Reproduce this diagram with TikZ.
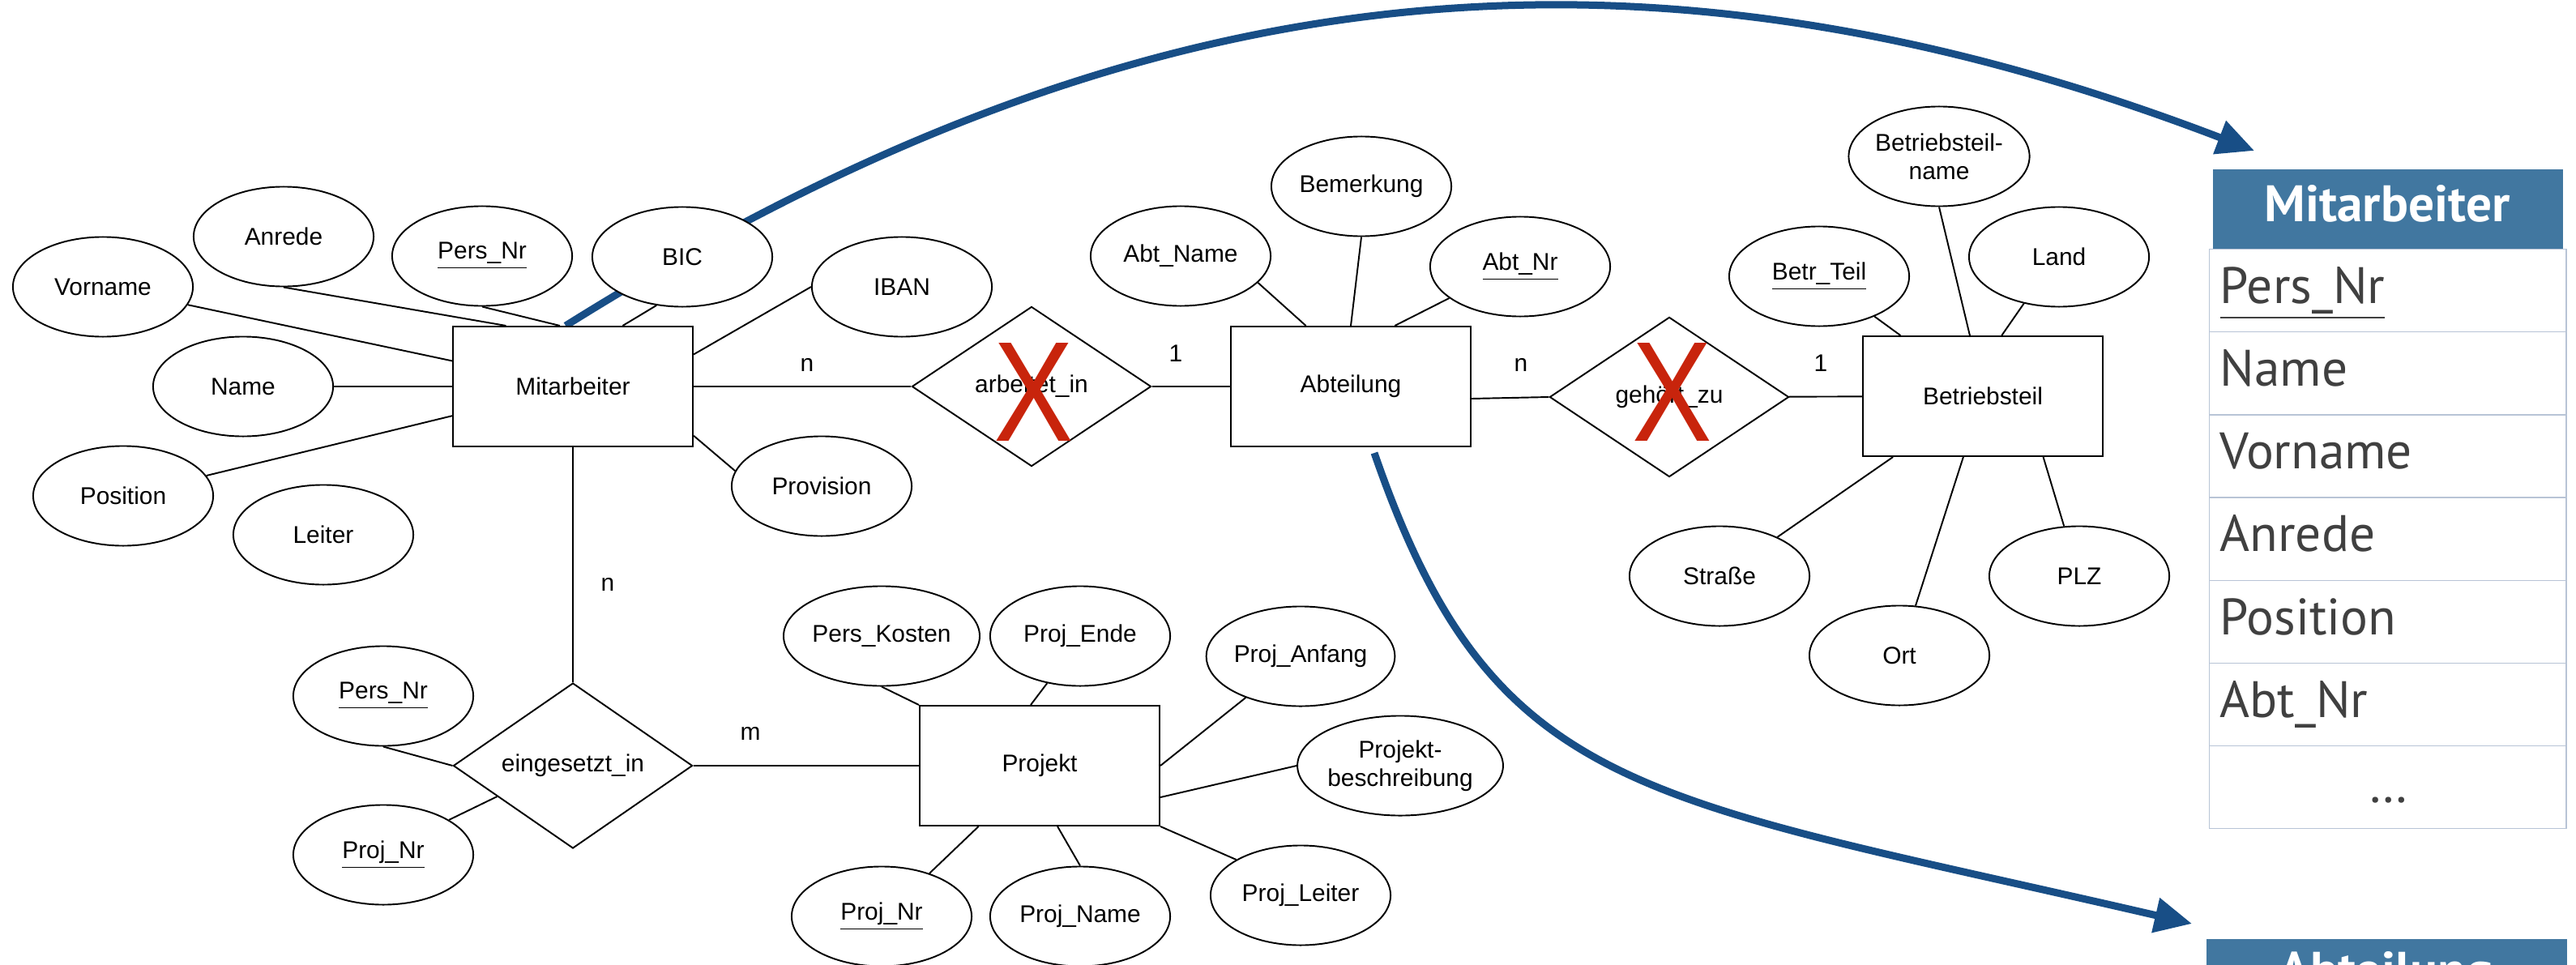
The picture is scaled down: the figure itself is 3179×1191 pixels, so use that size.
\documentclass[tikz,border=0pt]{standalone}
\usepackage{fontspec}
\setmainfont{Liberation Sans}
\newfontfamily\tabfont{PT Sans}
\usetikzlibrary{shapes.geometric,calc,arrows.meta}
\definecolor{arrowblue}{RGB}{24,78,134}
\definecolor{headblue}{RGB}{65,119,160}
\definecolor{rowline}{RGB}{184,196,214}
\definecolor{rowtext}{RGB}{64,64,64}
\definecolor{crossred}{RGB}{200,36,12}
\pgfdeclarelayer{bg}
\pgfsetlayers{bg,main}

\begin{document}
\begin{tikzpicture}[x=0.01cm,y=-0.01cm,
  every node/.style={font=\fontsize{8.5}{10}\selectfont},
  entity/.style={draw, line width=0.55pt, fill=white, rectangle, minimum width=2.96cm, minimum height=1.48cm, inner sep=0pt},
  attr/.style={draw, line width=0.55pt, fill=white, ellipse, minimum width=2.22cm, minimum height=1.23cm, inner sep=0pt, align=center},
  rel/.style={draw, line width=0.55pt, fill=white, diamond, minimum width=2.95cm, minimum height=1.97cm, inner sep=0pt},
  conn/.style={line width=0.55pt},
  cardlbl/.style={inner sep=0pt},
  mapflow/.style={draw=arrowblue, line width=0.09cm, -{Triangle[length=0.46cm,width=0.42cm]}},
  redx/.style={text=crossred, inner sep=0pt, anchor=base, font=\fontsize{50}{50}\selectfont},
  thead/.style={fill=headblue, minimum width=4.32cm, minimum height=0.99cm, inner sep=0pt, anchor=north west},
  trow/.style={draw=rowline, line width=0.35pt, minimum width=4.40cm, minimum height=1.0214cm, inner sep=0pt, anchor=north west},
  ttext/.style={text=rowtext, anchor=base west, inner sep=0pt, font=\tabfont\fontsize{18}{21}\selectfont},
  ttitle/.style={text=white, anchor=base, inner sep=0pt, font=\tabfont\bfseries\fontsize{18}{21}\selectfont},
]
\useasboundingbox (0,0) rectangle (3179,1191);

% entities
\node[entity] (mit)  at (707,477)  {Mitarbeiter};
\node[entity] (abt)  at (1667,477) {Abteilung};
\node[entity] (betr) at (2447,489) {Betriebsteil};
\node[entity] (proj) at (1283,945) {Projekt};

% relationships
\node[rel] (arb) at (1273,477) {arbeitet\_in};
\node[rel] (geh) at (2060,490) {gehört\_zu};
\node[rel] (ein) at (707,945)  {eingesetzt\_in};

% attributes of Mitarbeiter
\node[attr] (vorname)   at (127,354)  {Vorname};
\node[attr] (anrede)    at (350,292)  {Anrede};
\node[attr] (persnr)    at (595,316)  {\underline{Pers\_Nr}};
\node[attr] (bic)       at (842,317)  {BIC};
\node[attr] (iban)      at (1113,354) {IBAN};
\node[attr] (name)      at (300,477)  {Name};
\node[attr] (position)  at (152,612)  {Position};
\node[attr] (leiter)    at (399,660)  {Leiter};
\node[attr] (provision) at (1014,600) {Provision};

% attributes of Abteilung
\node[attr] (abtname)   at (1457,316) {Abt\_Name};
\node[attr] (bemerkung) at (1680,230) {Bemerkung};
\node[attr] (abtnr)     at (1876,329) {\underline{Abt\_Nr}};

% attributes of Betriebsteil
\node[attr] (betrname) at (2393,193) {Betriebsteil-\\name};
\node[attr] (betrteil) at (2245,341) {\underline{Betr\_Teil}};
\node[attr] (land)     at (2541,317) {Land};
\node[attr] (strasse)  at (2122,711) {Straße};
\node[attr] (ort)      at (2344,809) {Ort};
\node[attr] (plz)      at (2566,711) {PLZ};

% attributes of eingesetzt_in
\node[attr] (persnr2) at (473,859)  {\underline{Pers\_Nr}};
\node[attr] (projnr)  at (473,1055) {\underline{Proj\_Nr}};

% attributes of Projekt
\node[attr] (perskosten) at (1088,785)  {Pers\_Kosten};
\node[attr] (projende)   at (1333,785)  {Proj\_Ende};
\node[attr] (projanfang) at (1605,810)  {Proj\_Anfang};
\node[attr] (projbeschr) at (1728,945)  {Projekt-\\beschreibung};
\node[attr] (projleiter) at (1605,1105) {Proj\_Leiter};
\node[attr] (projnr2)    at (1088,1131) {\underline{Proj\_Nr}};
\node[attr] (projname)   at (1333,1131) {Proj\_Name};

% cardinalities
\node[cardlbl] (c1) at (996,450)  {n};
\node[cardlbl] (c2) at (1451,436) {1};
\node[cardlbl] (c3) at (1877,450) {n};
\node[cardlbl] (c4) at (2247,448) {1};
\node[cardlbl] (c5) at (750,721)  {n};
\node[cardlbl] (c6) at (926,905)  {m};

% struck-out relationships
\node[redx] (x1) at (1276,544) {\scalebox{0.84}[1]{X}};
\node[redx] (x2) at (2064,544) {\scalebox{0.84}[1]{X}};

% relational table Mitarbeiter
\node[thead] (tmit) at (2730,208) {};
\node[ttitle] (tmittitle) at (2946,274) {Mitarbeiter};
\node[trow] (r1) at (2726,307.0) {};
\node[trow] (r2) at (2726,409.1) {};
\node[trow] (r3) at (2726,511.3) {};
\node[trow] (r4) at (2726,613.4) {};
\node[trow] (r5) at (2726,715.6) {};
\node[trow] (r6) at (2726,817.7) {};
\node[trow] (r7) at (2726,919.9) {};
\node[ttext] (t1) at (2739,374) {\underline{Pers\_Nr}};
\node[ttext] (t2) at (2739,476) {Name};
\node[ttext] (t3) at (2739,578) {Vorname};
\node[ttext] (t4) at (2739,680) {Anrede};
\node[ttext] (t5) at (2739,783) {Position};
\node[ttext] (t6) at (2739,885) {Abt\_Nr};
\node[ttext, anchor=base] (t7) at (2947,990) {\dots};

% relational table Abteilung (runs off the lower edge)
\begin{scope}
\clip (0,0) rectangle (3179,1191);
\node[thead, minimum width=4.45cm] (tabt) at (2722,1158) {};
\node[ttitle] (tabttitle) at (2945,1219) {Abteilung};
\end{scope}

\begin{pgfonlayer}{bg}
% connectors of Mitarbeiter
\draw[conn] (vorname) -- (mit);
\draw[conn] (anrede.south) -- ($(mit.north west)!0.223!(mit.north east)$);
\draw[conn] (persnr.south) -- ($(mit.north west)!0.446!(mit.north east)$);
\draw[conn] (bic.-118) -- ($(mit.north west)!0.706!(mit.north east)$);
\draw[conn] (iban.west) -- ($(mit.north east)!0.236!(mit.south east)$);
\draw[conn] (name) -- (mit);
\draw[conn] (position) -- (mit);
\draw[conn] (provision.170) -- ($(mit.north east)!0.905!(mit.south east)$);
\draw[conn] (mit) -- (arb);
\draw[conn] (mit) -- (ein);
% connectors of Abteilung
\draw[conn] (arb) -- (abt);
\draw[conn] (abtname.-19) -- ($(abt.north west)!0.314!(abt.north east)$);
\draw[conn] (bemerkung.south) -- (abt.north);
\draw[conn] (abtnr.-156) -- ($(abt.north west)!0.682!(abt.north east)$);
\draw[conn] ($(abt.north east)!0.6!(abt.south east)$) -- (geh.west);
% connectors of Betriebsteil
\draw[conn] (geh) -- (betr);
\draw[conn] (betrteil.-36) -- ($(betr.north west)!0.159!(betr.north east)$);
\draw[conn] (betrname.south) -- ($(betr.north west)!0.446!(betr.north east)$);
\draw[conn] (land.-127) -- ($(betr.north west)!0.578!(betr.north east)$);
\draw[conn] (strasse.34) -- ($(betr.south west)!0.128!(betr.south east)$);
\draw[conn] (ort.72) -- ($(betr.south west)!0.419!(betr.south east)$);
\draw[conn] (plz.107) -- ($(betr.south west)!0.75!(betr.south east)$);
% connectors of eingesetzt_in
\draw[conn] (persnr2.south) -- (ein.west);
\draw[conn] (projnr.28) -- ($(ein.west)!0.37!(ein.south)$);
\draw[conn] (ein) -- (proj);
% connectors of Projekt
\draw[conn] (perskosten.south) -- (proj.north west);
\draw[conn] (projende.-125) -- ($(proj.north west)!0.463!(proj.north east)$);
\draw[conn] (projanfang.-143) -- (proj.east);
\draw[conn] (projbeschr.west) -- ($(proj.north east)!0.76!(proj.south east)$);
\draw[conn] (projleiter.151) -- (proj.south east);
\draw[conn] (projnr2.42) -- ($(proj.south west)!0.247!(proj.south east)$);
\draw[conn] (projname.north) -- ($(proj.south west)!0.574!(proj.south east)$);

% mapping arrows to the tables
\coordinate (a1s) at ($(mit.north west)!0.47!(mit.north east)$);
\coordinate (a1e) at ($(tmit.north west)+(52,-22)$);
\draw[mapflow] (a1s) .. controls +(644,-403) and +(-822,-315) .. (a1e);
\coordinate (a2s) at ($(abt.south)+(29,7)$);
\coordinate (a2e) at ($(tabt.north west)+(-17,-18)$);
\draw[mapflow] (a2s) .. controls +(147,426) and +(-682,-158) .. (a2e);
\end{pgfonlayer}
\end{tikzpicture}
\end{document}
